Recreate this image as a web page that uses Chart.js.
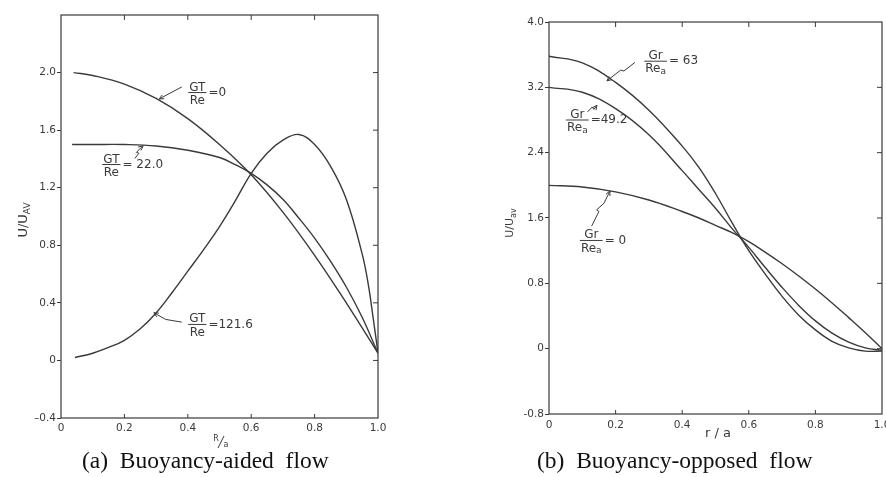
<!DOCTYPE html>
<html>
<head>
<meta charset="utf-8">
<script src="https://cdn.jsdelivr.net/npm/chart.js@4.4.0/dist/chart.umd.min.js"></script>
<style>
  body { margin: 0; background: #fff; width: 886px; height: 477px; overflow: hidden; position: relative; }
  canvas { position: absolute; top: 0; }
  #leftChart { left: 0; }
  #rightChart { left: 440px; }
  .caption { position: absolute; font-family: "Liberation Serif", "DejaVu Serif", serif; font-size: 23.5px; line-height: 24px; color: #111; white-space: pre; }
</style>
</head>
<body>
<canvas id="leftChart" width="420" height="450"></canvas>
<canvas id="rightChart" width="446" height="450"></canvas>
<div class="caption" style="left:82px; top:448px;">(a)  Buoyancy-aided  flow</div>
<div class="caption" style="left:537px; top:448px;">(b)  Buoyancy-opposed  flow</div>
<script>
// ---- (a) buoyancy-aided flow ----
const aidedR0 = [0.04, 0.1, 0.2, 0.3, 0.4, 0.5, 0.6, 0.7, 0.8, 0.9, 1.0];
const aidedU0 = [2.0, 1.98, 1.92, 1.82, 1.68, 1.50, 1.29, 1.03, 0.73, 0.40, 0.05];

const aidedR22 = [0.035, 0.1, 0.2, 0.3, 0.4, 0.5, 0.55, 0.6, 0.65, 0.7, 0.75, 0.8, 0.85, 0.9, 0.95, 1.0];
const aidedU22 = [1.50, 1.50, 1.50, 1.49, 1.46, 1.41, 1.36, 1.30, 1.22, 1.12, 0.99, 0.85, 0.69, 0.51, 0.30, 0.05];

const aidedR121 = [0.044, 0.1, 0.15, 0.2, 0.25, 0.3, 0.35, 0.4, 0.45, 0.5, 0.55, 0.6, 0.65, 0.7, 0.75, 0.8, 0.85, 0.9, 0.95, 0.97, 0.985, 1.0];
const aidedU121 = [0.02, 0.05, 0.09, 0.14, 0.22, 0.33, 0.47, 0.62, 0.77, 0.93, 1.11, 1.30, 1.44, 1.53, 1.57, 1.50, 1.35, 1.12, 0.74, 0.52, 0.29, 0.05];

const aidedXTicks = [0, 0.2, 0.4, 0.6, 0.8, 1.0];
const aidedXTickLabels = ['0', '0.2', '0.4', '0.6', '0.8', '1.0'];
const aidedYTicks = [-0.4, 0, 0.4, 0.8, 1.2, 1.6, 2.0];
const aidedYTickLabels = ['\u20130.4', '0', '0.4', '0.8', '1.2', '1.6', '2.0'];

// ---- (b) buoyancy-opposed flow ----
const opposedR = [0, 0.1, 0.2, 0.3, 0.4, 0.45, 0.5, 0.55, 0.6, 0.65, 0.7, 0.75, 0.8, 0.85, 0.9, 0.95, 1.0];
const opposedU0 = [2.0, 1.98, 1.92, 1.82, 1.68, 1.60, 1.51, 1.42, 1.31, 1.18, 1.04, 0.89, 0.73, 0.56, 0.38, 0.195, 0.0];
const opposedU49 = [3.20, 3.14, 2.94, 2.62, 2.18, 1.95, 1.72, 1.47, 1.24, 0.99, 0.75, 0.53, 0.34, 0.19, 0.08, 0.01, -0.02];
const opposedU63 = [3.58, 3.50, 3.26, 2.92, 2.48, 2.22, 1.90, 1.54, 1.20, 0.91, 0.64, 0.41, 0.23, 0.09, 0.01, -0.03, -0.03];

const opposedXTicks = [0, 0.2, 0.4, 0.6, 0.8, 1.0];
const opposedXTickLabels = ['0', '0.2', '0.4', '0.6', '0.8', '1.0'];
const opposedYTicks = [-0.8, 0, 0.8, 1.6, 2.4, 3.2, 4.0];
const opposedYTickLabels = ['-0.8', '0', '0.8', '1.6', '2.4', '3.2', '4.0'];

const ink = '#3a3a3a';
const tickFont = { family: 'DejaVu Sans', size: 10.5 };
const noteFont = '12px "DejaVu Sans"';
const subFont = '9px "DejaVu Sans"';

function pts(xs, ys) {
  return xs.map((x, i) => ({ x: x, y: ys[i] }));
}

function curve(xs, ys) {
  return {
    data: pts(xs, ys),
    borderColor: ink,
    borderWidth: 1.4,
    pointRadius: 0,
    showLine: true,
    fill: false,
    tension: 0.4
  };
}

// fix axis size so the plot box lands where the scan has it
function fixedSize(size) {
  return function (scale) {
    if (scale.isHorizontal()) scale.height = size; else scale.width = size;
    scale.paddingLeft = 0;
    scale.paddingRight = 0;
    scale.paddingTop = 0;
    scale.paddingBottom = 0;
  };
}

function axes(xTicks, xLabels, yTicks, yLabels, yMin, yMax, yWidth, xHeight, xPad) {
  return {
    x: {
      type: 'linear', min: 0, max: 1,
      afterBuildTicks: s => { s.ticks = xTicks.map(v => ({ value: v })); },
      ticks: { callback: (v, i) => xLabels[i], font: tickFont, color: ink, padding: xPad, maxRotation: 0, autoSkip: false },
      grid: { display: false, drawTicks: false },
      border: { display: false },
      afterFit: fixedSize(xHeight)
    },
    y: {
      type: 'linear', min: yMin, max: yMax,
      afterBuildTicks: s => { s.ticks = yTicks.map(v => ({ value: v })); },
      ticks: { callback: (v, i) => yLabels[i], font: tickFont, color: ink, padding: 1, autoSkip: false },
      grid: { display: true, drawOnChartArea: false, drawTicks: true, tickLength: 4, color: ink, lineWidth: 1 },
      border: { display: false },
      afterFit: fixedSize(yWidth)
    }
  };
}

function drawFraction(ctx, cx, cy, a) {
  ctx.fillStyle = ink;
  ctx.strokeStyle = ink;
  ctx.font = noteFont;
  const wn = ctx.measureText(a.num).width;
  const wd = ctx.measureText(a.den).width;
  ctx.font = subFont;
  const ws = a.sub ? ctx.measureText(a.sub).width : 0;
  const w = Math.max(wn, wd + ws);
  ctx.lineWidth = 1;
  ctx.beginPath();
  ctx.moveTo(cx - w / 2 - 1, cy);
  ctx.lineTo(cx + w / 2 + 1, cy);
  ctx.stroke();
  ctx.font = noteFont;
  ctx.textAlign = 'center';
  ctx.textBaseline = 'alphabetic';
  ctx.fillText(a.num, cx, cy - 2);
  ctx.textAlign = 'left';
  ctx.textBaseline = 'top';
  const dx = cx - (wd + ws) / 2;
  ctx.fillText(a.den, dx, cy + 2);
  if (a.sub) {
    ctx.font = subFont;
    ctx.fillText(a.sub, dx + wd, cy + 6);
  }
  ctx.font = noteFont;
  ctx.textBaseline = 'middle';
  ctx.fillText(a.rhs, cx + w / 2 + 3, cy);
}

const decor = {
  id: 'decor',
  afterDraw(chart, args, opts) {
    const { ctx, chartArea: ca, scales } = chart;
    const sx = scales.x, sy = scales.y;
    ctx.save();
    ctx.strokeStyle = ink;
    ctx.lineWidth = 1.2;
    ctx.strokeRect(ca.left, ca.top, ca.right - ca.left, ca.bottom - ca.top);

    // inward ticks on bottom, top and right sides
    ctx.lineWidth = 1;
    ctx.beginPath();
    sx.ticks.forEach(t => {
      const px = sx.getPixelForValue(t.value);
      if (px <= ca.left + 1 || px >= ca.right - 1) return;
      ctx.moveTo(px, ca.bottom); ctx.lineTo(px, ca.bottom - 4);
      ctx.moveTo(px, ca.top); ctx.lineTo(px, ca.top + 5);
    });
    sy.ticks.forEach(t => {
      const py = sy.getPixelForValue(t.value);
      if (py <= ca.top + 1 || py >= ca.bottom - 1) return;
      ctx.moveTo(ca.right, py); ctx.lineTo(ca.right - 5, py);
    });
    ctx.stroke();

    // axis titles
    ctx.fillStyle = ink;
    const yt = opts.yTitle;
    const subSize = Math.round(yt.size * 0.7);
    ctx.save();
    ctx.translate(yt.x, yt.y);
    ctx.rotate(-Math.PI / 2);
    ctx.font = yt.size + 'px "DejaVu Sans"';
    const wMain = ctx.measureText(yt.main).width;
    ctx.font = subSize + 'px "DejaVu Sans"';
    const wSub = ctx.measureText(yt.sub).width;
    ctx.textAlign = 'left';
    ctx.textBaseline = 'alphabetic';
    ctx.font = yt.size + 'px "DejaVu Sans"';
    ctx.fillText(yt.main, -(wMain + wSub) / 2, yt.size * 0.35);
    ctx.font = subSize + 'px "DejaVu Sans"';
    ctx.fillText(yt.sub, -(wMain + wSub) / 2 + wMain, yt.size * 0.65);
    ctx.restore();

    const xt = opts.xTitle;
    ctx.textBaseline = 'middle';
    ctx.textAlign = 'center';
    if (xt.stacked) {
      ctx.font = '8px "DejaVu Sans"';
      ctx.fillText('R', xt.x - 5, xt.y - 3);
      ctx.fillText('a', xt.x + 5, xt.y + 3);
      ctx.lineWidth = 1;
      ctx.beginPath();
      ctx.moveTo(xt.x - 3, xt.y + 6); ctx.lineTo(xt.x + 3, xt.y - 6);
      ctx.stroke();
    } else {
      ctx.font = xt.size + 'px "DejaVu Sans"';
      ctx.fillText(xt.text, xt.x, xt.y);
    }

    // curve labels with leader marks
    opts.notes.forEach(a => {
      const cx = sx.getPixelForValue(a.x), cy = sy.getPixelForValue(a.y);
      drawFraction(ctx, cx, cy, a);
      const path = a.leader.map(p => [sx.getPixelForValue(p[0]), sy.getPixelForValue(p[1])]);
      ctx.lineWidth = 1;
      ctx.beginPath();
      path.forEach((p, i) => { if (i === 0) ctx.moveTo(p[0], p[1]); else ctx.lineTo(p[0], p[1]); });
      ctx.stroke();
      const e = path[path.length - 1], b = path[path.length - 2];
      const ang = Math.atan2(e[1] - b[1], e[0] - b[0]);
      ctx.beginPath();
      ctx.moveTo(e[0], e[1]);
      ctx.lineTo(e[0] - 5 * Math.cos(ang - 0.45), e[1] - 5 * Math.sin(ang - 0.45));
      ctx.moveTo(e[0], e[1]);
      ctx.lineTo(e[0] - 5 * Math.cos(ang + 0.45), e[1] - 5 * Math.sin(ang + 0.45));
      ctx.stroke();
    });
    ctx.restore();
  }
};

new Chart(document.getElementById('leftChart'), {
  type: 'scatter',
  data: {
    datasets: [curve(aidedR0, aidedU0), curve(aidedR22, aidedU22), curve(aidedR121, aidedU121)]
  },
  options: {
    responsive: false,
    animation: false,
    layout: { padding: { top: 15, right: 42, left: 0, bottom: 0 } },
    scales: axes(aidedXTicks, aidedXTickLabels, aidedYTicks, aidedYTickLabels, -0.4, 2.4, 61, 32, 4),
    plugins: {
      legend: { display: false },
      tooltip: { enabled: false },
      decor: {
        yTitle: { x: 22, y: 220, main: 'U/U', sub: 'AV', size: 13 },
        xTitle: { x: 221, y: 442, stacked: true },
        notes: [
          { x: 0.43, y: 1.861, num: 'GT', den: 'Re', sub: '', rhs: '=0',
            leader: [[0.381, 1.90], [0.310, 1.817]] },
          { x: 0.159, y: 1.361, num: 'GT', den: 'Re', sub: '', rhs: '= 22.0',
            leader: [[0.233, 1.403], [0.246, 1.44], [0.238, 1.445], [0.252, 1.478], [0.259, 1.49]] },
          { x: 0.43, y: 0.25, num: 'GT', den: 'Re', sub: '', rhs: '=121.6',
            leader: [[0.381, 0.266], [0.33, 0.285], [0.293, 0.331]] }
        ]
      }
    }
  },
  plugins: [decor]
});

new Chart(document.getElementById('rightChart'), {
  type: 'scatter',
  data: {
    datasets: [curve(opposedR, opposedU0), curve(opposedR, opposedU49), curve(opposedR, opposedU63)]
  },
  options: {
    responsive: false,
    animation: false,
    layout: { padding: { top: 22, right: 4, left: 0, bottom: 0 } },
    scales: axes(opposedXTicks, opposedXTickLabels, opposedYTicks, opposedYTickLabels, -0.8, 4.0, 109, 36, 5),
    plugins: {
      legend: { display: false },
      tooltip: { enabled: false },
      decor: {
        yTitle: { x: 69, y: 223, main: 'U/U', sub: 'av', size: 11 },
        xTitle: { x: 278, y: 434, text: 'r / a', size: 13 },
        notes: [
          { x: 0.32, y: 3.52, num: 'Gr', den: 'Re', sub: 'a', rhs: '= 63',
            leader: [[0.258, 3.505], [0.225, 3.40], [0.215, 3.41], [0.174, 3.28]] },
          { x: 0.085, y: 2.80, num: 'Gr', den: 'Re', sub: 'a', rhs: '=49.2',
            leader: [[0.116, 2.90], [0.13, 2.96], [0.135, 2.93], [0.144, 2.98]] },
          { x: 0.127, y: 1.325, num: 'Gr', den: 'Re', sub: 'a', rhs: '= 0',
            leader: [[0.128, 1.50], [0.15, 1.68], [0.143, 1.70], [0.165, 1.78], [0.183, 1.93]] }
        ]
      }
    }
  },
  plugins: [decor]
});
</script>
</body>
</html>
